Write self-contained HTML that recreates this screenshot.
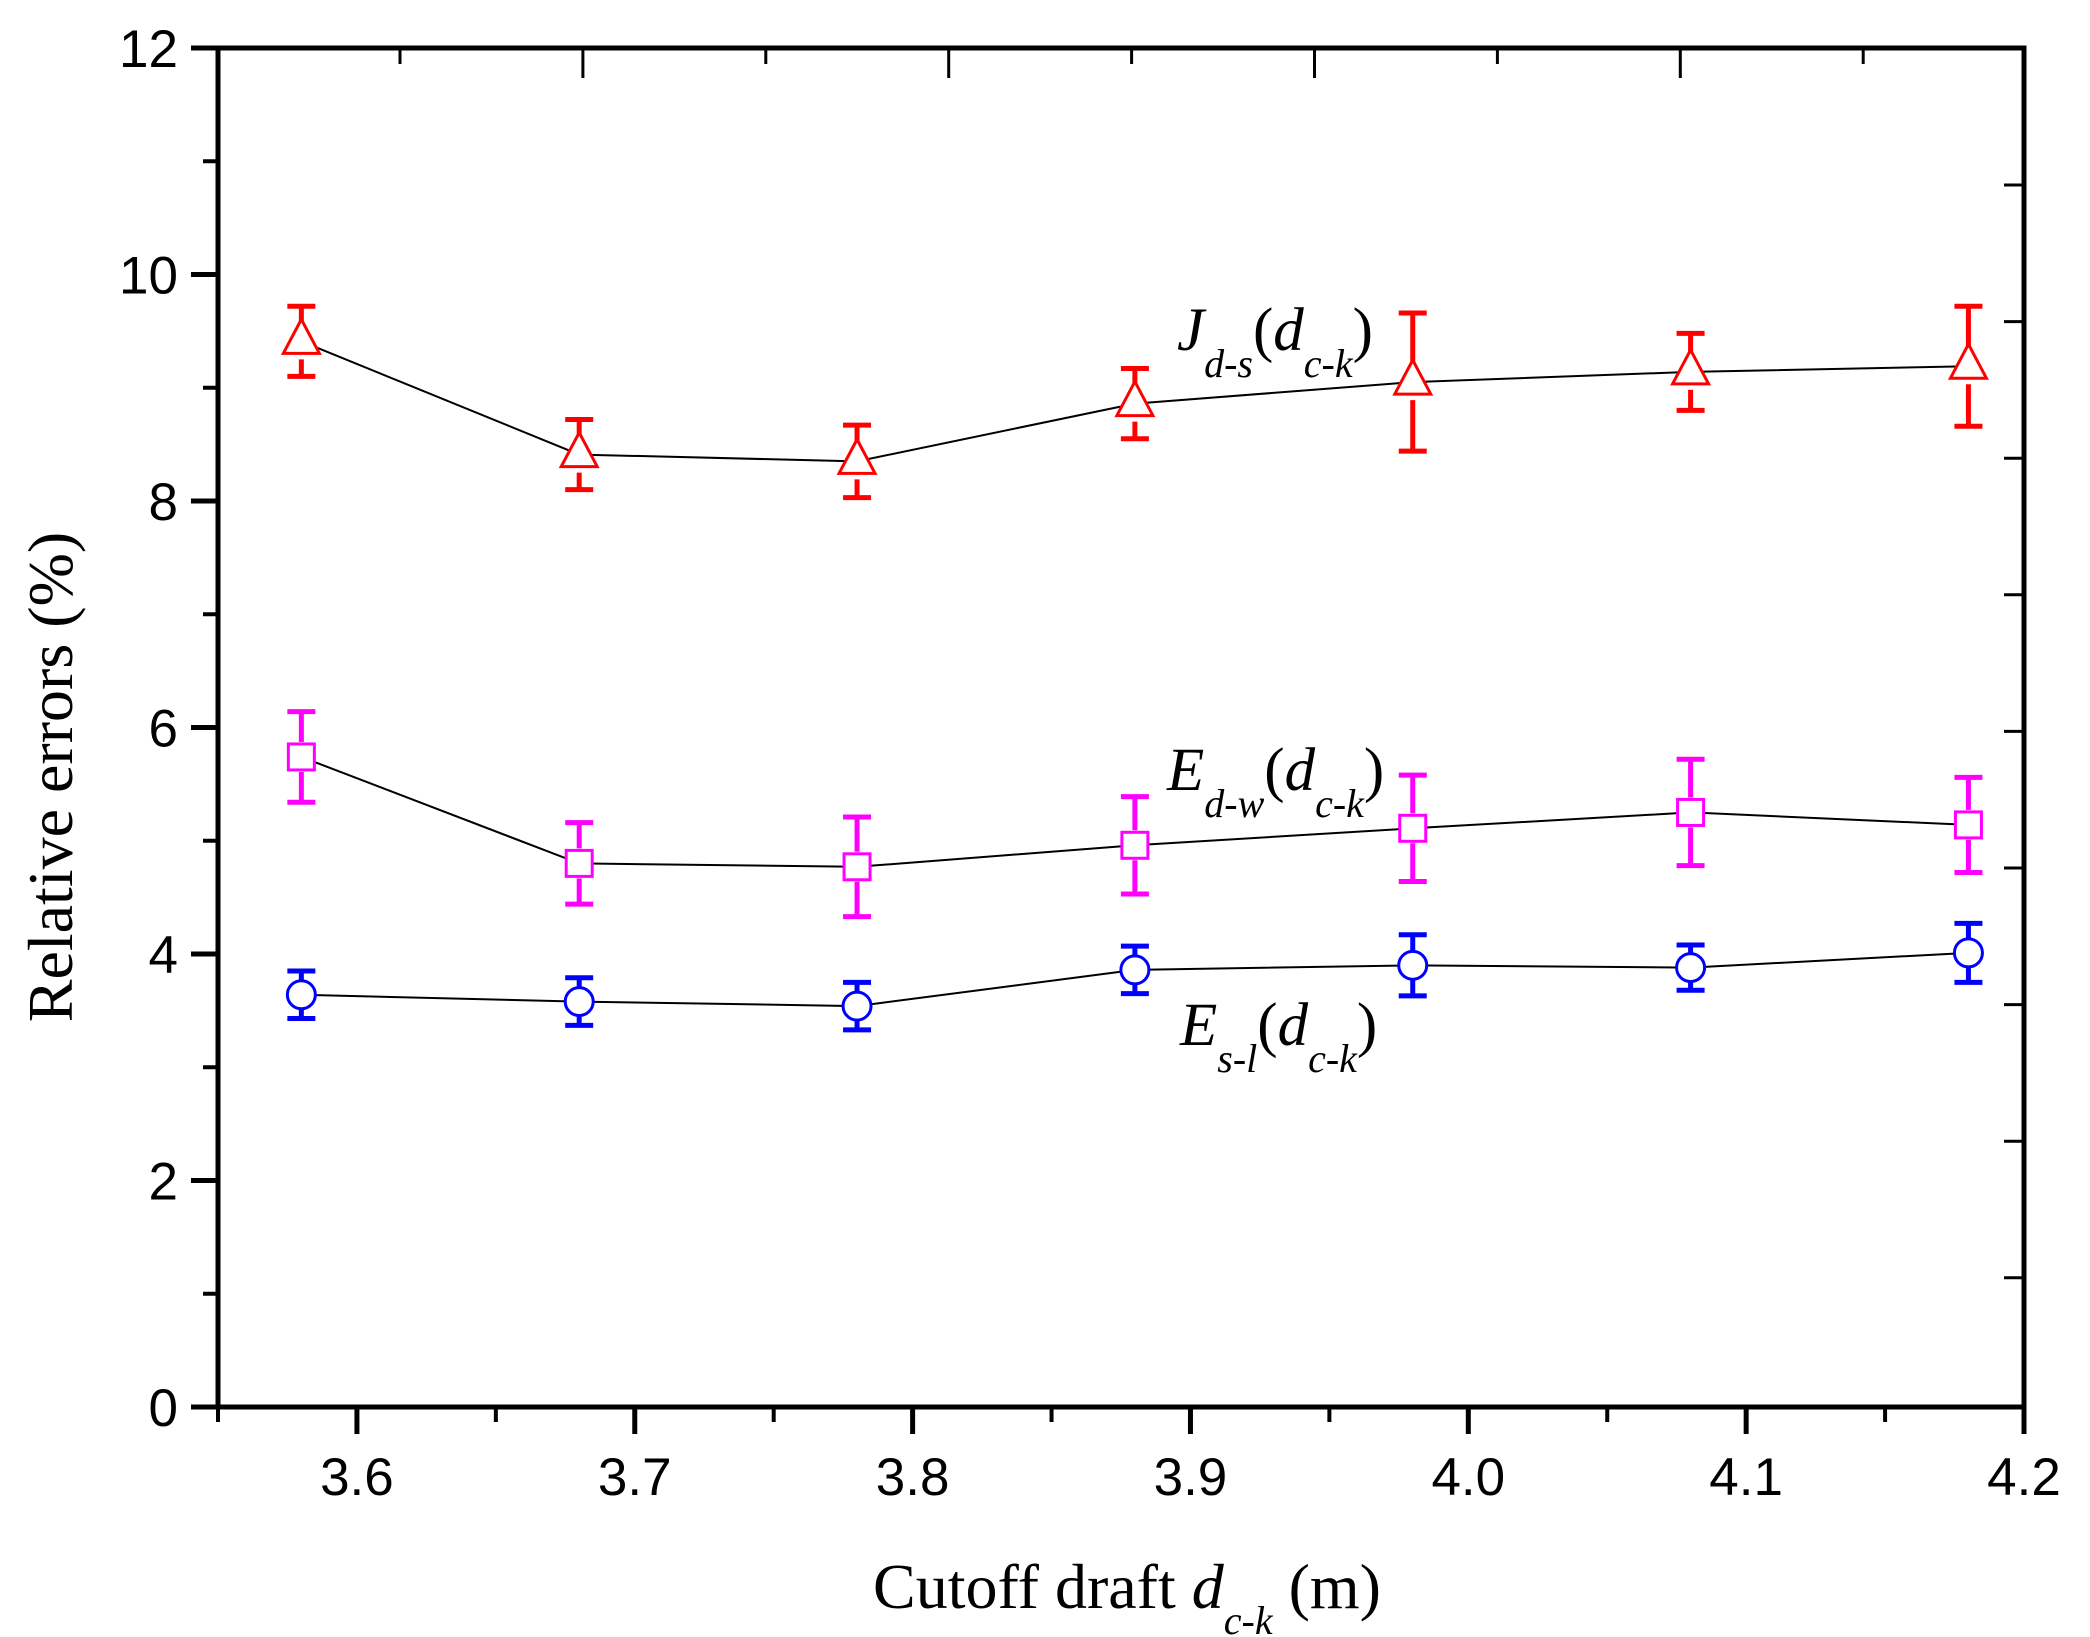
<!DOCTYPE html>
<html><head><meta charset="utf-8"><style>html,body{margin:0;padding:0;background:#fff}svg{display:block}</style></head>
<body>
<svg id="chart" width="2090" height="1637" viewBox="0 0 2090 1637" xmlns="http://www.w3.org/2000/svg">
<g id="axes"></g>
<g id="series"></g>
<g font-family="'Liberation Serif', serif" fill="#000">
 <text x="1177" y="350" font-size="61"><tspan font-style="italic">J</tspan><tspan font-style="italic" font-size="40" dy="27">d-s</tspan><tspan dy="-27">(</tspan><tspan font-style="italic">d</tspan><tspan font-style="italic" font-size="40" dy="27">c-k</tspan><tspan dy="-27">)</tspan></text>
 <text x="1167" y="790" font-size="61"><tspan font-style="italic">E</tspan><tspan font-style="italic" font-size="40" dy="27">d-w</tspan><tspan dy="-27">(</tspan><tspan font-style="italic">d</tspan><tspan font-style="italic" font-size="40" dy="27">c-k</tspan><tspan dy="-27">)</tspan></text>
 <text x="1180" y="1045" font-size="61"><tspan font-style="italic">E</tspan><tspan font-style="italic" font-size="40" dy="27">s-l</tspan><tspan dy="-27">(</tspan><tspan font-style="italic">d</tspan><tspan font-style="italic" font-size="40" dy="27">c-k</tspan><tspan dy="-27">)</tspan></text>
</g>
<text x="873" y="1608" font-family="'Liberation Serif', serif" font-size="64">Cutoff draft <tspan font-style="italic">d</tspan><tspan font-style="italic" font-size="40" dy="26">c-k</tspan><tspan dy="-26"> (m)</tspan></text>
<text transform="translate(72,777) rotate(-90)" text-anchor="middle" font-family="'Liberation Serif', serif" font-size="64">Relative errors (%)</text>
</svg>
<script>
const xValues = [3.58, 3.68, 3.78, 3.88, 3.98, 4.08, 4.18];
const jdsValues = [9.41, 8.41, 8.35, 8.86, 9.05, 9.14, 9.19];
const jdsErrors = [0.31, 0.31, 0.32, 0.31, 0.61, 0.34, 0.53];
const edwValues = [5.74, 4.80, 4.77, 4.96, 5.11, 5.25, 5.14];
const edwErrors = [0.40, 0.36, 0.44, 0.43, 0.47, 0.47, 0.42];
const eslValues = [3.64, 3.58, 3.54, 3.86, 3.90, 3.88, 4.01];
const eslErrors = [0.21, 0.21, 0.21, 0.21, 0.27, 0.20, 0.26];
const xTicks = [3.6, 3.7, 3.8, 3.9, 4.0, 4.1, 4.2];
const xTickLabels = ["3.6", "3.7", "3.8", "3.9", "4.0", "4.1", "4.2"];
const yTicks = [0, 2, 4, 6, 8, 10, 12];
const yTickLabels = ["0", "2", "4", "6", "8", "10", "12"];

const L = 218, R = 2024, T = 48, B = 1407;
const xMin = 3.55, xMax = 4.2, yMin = 0, yMax = 12;
function sx(v) { return L + (v - xMin) / (xMax - xMin) * (R - L); }
function sy(v) { return B - (v - yMin) / (yMax - yMin) * (B - T); }
const NS = 'http://www.w3.org/2000/svg';
function mk(parent, tag, attrs) {
  const e = document.createElementNS(NS, tag);
  for (const k in attrs) e.setAttribute(k, attrs[k]);
  parent.appendChild(e);
  return e;
}
const axes = document.getElementById('axes');
const frame = mk(axes, 'rect', {x: L, y: T, width: R - L, height: B - T, fill: 'none', stroke: '#000', 'stroke-width': 5});


for (let i = 0; i < yTicks.length; i++) {
  const y = sy(yTicks[i]);
  const t = mk(axes, 'line', {x1: L - 27, x2: L, y1: y, y2: y, stroke: '#000', 'stroke-width': 5});
  
  
  const lb = mk(axes, 'text', {x: L - 40, y: y + 19, 'text-anchor': 'end', 'font-family': "'Liberation Sans', sans-serif", 'font-size': 53});
  lb.textContent = yTickLabels[i];
  
  
  if (i < yTicks.length - 1) {
    const ym = sy(yTicks[i] + 1);
    const m = mk(axes, 'line', {x1: L - 15, x2: L, y1: ym, y2: ym, stroke: '#000', 'stroke-width': 4});
    
    
  }
}
for (let i = 0; i < xTicks.length; i++) {
  const x = sx(xTicks[i]);
  const t = mk(axes, 'line', {x1: x, x2: x, y1: B, y2: B + 27, stroke: '#000', 'stroke-width': 5});
  
  
  const lb = mk(axes, 'text', {x: x, y: B + 88, 'text-anchor': 'middle', 'font-family': "'Liberation Sans', sans-serif", 'font-size': 53});
  lb.textContent = xTickLabels[i];
  
  
  const xm = sx(xTicks[i] - 0.05);
  const m = mk(axes, 'line', {x1: xm, x2: xm, y1: B, y2: B + 15, stroke: '#000', 'stroke-width': 4});
  
  
}
for (let k = 0; k < 9; k++) {
  const x = 400 + k * 182.9;
  const len = (k % 2 === 1) ? 30 : 16;
  const t = mk(axes, 'line', {x1: x, x2: x, y1: T, y2: T + len, stroke: '#000', 'stroke-width': 3});
  
  
}
for (let k = 0; k < 9; k++) {
  const y = 185 + k * 136.6;
  const t = mk(axes, 'line', {x1: R - 20, x2: R, y1: y, y2: y, stroke: '#000', 'stroke-width': 3});
  
  
}

const series = document.getElementById('series');
function drawSeries(name, vals, errs, color, shape) {
  const g = mk(series, 'g', {});
  
  
  const pts = xValues.map((x, i) => sx(x) + ',' + sy(vals[i])).join(' ');
  const pl = mk(g, 'polyline', {points: pts, fill: 'none', stroke: '#000', 'stroke-width': 2});
  
  
  const s = shape === 'tri' ? 18 : 15;
  for (let i = 0; i < xValues.length; i++) {
    const x = sx(xValues[i]), y = sy(vals[i]);
    const yt = sy(vals[i] + errs[i]), yb = sy(vals[i] - errs[i]);
    const eb = mk(g, 'path', {d: `M${x},${y - s}L${x},${yt}M${x - 14},${yt}L${x + 14},${yt}M${x},${y + s}L${x},${yb}M${x - 14},${yb}L${x + 14},${yb}`, stroke: color, 'stroke-width': 5, fill: 'none'});
    
    
    let m;
    if (shape === 'tri') m = mk(g, 'polygon', {points: `${x},${y - 22} ${x - 18},${y + 12} ${x + 18},${y + 12}`, fill: '#fff', stroke: color, 'stroke-width': 3});
    else if (shape === 'sq') m = mk(g, 'rect', {x: x - 13, y: y - 13, width: 26, height: 26, fill: '#fff', stroke: color, 'stroke-width': 3});
    else m = mk(g, 'circle', {cx: x, cy: y, r: 14, fill: '#fff', stroke: color, 'stroke-width': 3});
    
    
  }
}
drawSeries('series-j-ds', jdsValues, jdsErrors, '#ff0000', 'tri');
drawSeries('series-e-dw', edwValues, edwErrors, '#ff00ff', 'sq');
drawSeries('series-e-sl', eslValues, eslErrors, '#0000ff', 'circ');
</script>
</body></html>
